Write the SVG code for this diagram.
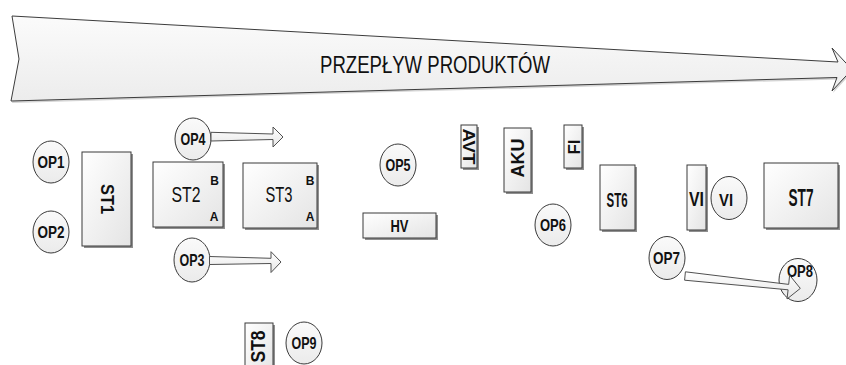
<svg xmlns="http://www.w3.org/2000/svg" width="846" height="365" viewBox="0 0 846 365">
<defs>
<linearGradient id="gBox" x1="0" y1="0" x2="1" y2="1">
<stop offset="0" stop-color="#ffffff"/><stop offset="1" stop-color="#e4e4e4"/>
</linearGradient>
<linearGradient id="gEl" x1="0" y1="0" x2="0" y2="1">
<stop offset="0" stop-color="#fafafa"/><stop offset="1" stop-color="#ebebeb"/>
</linearGradient>
<linearGradient id="gFlow" x1="0" y1="0" x2="0" y2="1">
<stop offset="0" stop-color="#fbfbfb"/><stop offset="1" stop-color="#ececec"/>
</linearGradient>
<linearGradient id="gArr" x1="0" y1="0" x2="0" y2="1">
<stop offset="0" stop-color="#ffffff"/><stop offset="1" stop-color="#e6e6e6"/>
</linearGradient>
</defs>
<style>
.box{fill:url(#gBox);stroke:#3a3a3a;stroke-width:1}
.sh{fill:#6a6a6a;opacity:0.75}
.el{fill:url(#gEl);stroke:#3a3a3a;stroke-width:1}
.arr{fill:url(#gArr);stroke:#505050;stroke-width:1;stroke-linejoin:miter}
text{font-family:"Liberation Sans",Arial,sans-serif;fill:#111;text-anchor:middle}
.b{font-weight:bold}
.op{font-weight:bold;font-size:17px}
.sm{font-weight:bold;font-size:12px}
</style>
<rect width="846" height="365" fill="#ffffff"/>

<g id="flow">
<polygon points="12,16 838,62 832,48 852,69.5 832,91 837,77.5 11,101 19,59" fill="#d4d4d4" transform="translate(1,2)"/>
<polygon points="12,16 838,62 832,48 852,69.5 832,91 837,77.5 11,101 19,59" fill="url(#gFlow)" stroke="#3c3c3c" stroke-width="1"/>
<text x="435" y="73" font-size="24" textLength="230" lengthAdjust="spacingAndGlyphs">PRZEPŁYW PRODUKTÓW</text>
</g>

<g id="OP1"><ellipse class="el" cx="51" cy="162" rx="18" ry="21"/><text class="op" x="51" y="168" textLength="27" lengthAdjust="spacingAndGlyphs">OP1</text></g>
<g id="OP2"><ellipse class="el" cx="51" cy="232" rx="18" ry="21"/><text class="op" x="51" y="238" textLength="27" lengthAdjust="spacingAndGlyphs">OP2</text></g>

<g id="ST1"><rect class="sh" x="84" y="154" width="49" height="94"/><rect class="box" x="82" y="152" width="49" height="94"/>
<text class="b" font-size="18" transform="translate(107,199) rotate(90)" x="0" y="6.5" textLength="30" lengthAdjust="spacingAndGlyphs">ST1</text></g>

<g id="OP4"><ellipse class="el" cx="193" cy="139" rx="18" ry="21"/><text class="op" x="193" y="145" textLength="25" lengthAdjust="spacingAndGlyphs">OP4</text></g>

<g id="ST2"><rect class="sh" x="155" y="164" width="70" height="65"/><rect class="box" x="153" y="162" width="70" height="65"/>
<text font-size="22" x="186" y="201.5" textLength="29" lengthAdjust="spacingAndGlyphs">ST2</text>
<text class="sm" x="214.5" y="184.5">B</text><text class="sm" x="214" y="221">A</text></g>

<g id="ST3"><rect class="sh" x="245" y="165" width="74" height="65"/><rect class="box" x="243" y="163" width="74" height="65"/>
<text font-size="22" x="279" y="202" textLength="27" lengthAdjust="spacingAndGlyphs">ST3</text>
<text class="sm" x="310" y="184.5">B</text><text class="sm" x="310" y="221">A</text></g>

<g id="OP3"><ellipse class="el" cx="192" cy="260" rx="18" ry="22"/><text class="op" x="192" y="266" textLength="25" lengthAdjust="spacingAndGlyphs">OP3</text></g>

<g id="OP5"><ellipse class="el" cx="398" cy="165" rx="18" ry="21"/><text class="op" x="398" y="171" textLength="25" lengthAdjust="spacingAndGlyphs">OP5</text></g>

<g id="HV"><rect class="sh" x="365" y="215" width="73" height="25"/><rect class="box" x="363" y="213" width="73" height="25"/>
<text class="b" font-size="16" x="399.5" y="231.5" textLength="18" lengthAdjust="spacingAndGlyphs">HV</text></g>

<g id="AVT"><rect class="sh" x="463" y="127" width="16" height="43"/><rect class="box" x="461" y="125" width="16" height="43"/>
<text class="b" font-size="17" transform="translate(468.5,146.5) rotate(90)" x="0" y="6" textLength="36" lengthAdjust="spacingAndGlyphs">AVT</text></g>

<g id="AKU"><rect class="sh" x="506" y="130" width="27" height="64"/><rect class="box" x="504" y="128" width="27" height="64"/>
<text class="b" font-size="19" transform="translate(516.5,158) rotate(-90)" x="0" y="7" textLength="39" lengthAdjust="spacingAndGlyphs">AKU</text></g>

<g id="FI"><rect class="sh" x="566" y="127" width="18" height="43"/><rect class="box" x="564" y="125" width="18" height="43"/>
<text class="b" font-size="17" transform="translate(573.5,147) rotate(-90)" x="0" y="6" textLength="15" lengthAdjust="spacingAndGlyphs">FI</text></g>

<g id="OP6"><ellipse class="el" cx="553" cy="225" rx="18" ry="21"/><text class="op" x="553" y="231" textLength="26" lengthAdjust="spacingAndGlyphs">OP6</text></g>

<g id="ST6"><rect class="sh" x="602" y="167" width="35" height="65"/><rect class="box" x="600" y="165" width="35" height="65"/>
<text class="b" font-size="20" x="617" y="206.5" textLength="21" lengthAdjust="spacingAndGlyphs">ST6</text></g>

<g id="VI-box"><rect class="sh" x="689" y="167" width="19" height="65"/><rect class="box" x="687" y="165" width="19" height="65"/>
<text class="b" font-size="21" x="696.5" y="206" textLength="15" lengthAdjust="spacingAndGlyphs">VI</text></g>

<g id="VI-op"><ellipse class="el" cx="729" cy="198" rx="18" ry="21.5"/><text class="b" font-size="17" x="726" y="206" textLength="14" lengthAdjust="spacingAndGlyphs">VI</text></g>

<g id="ST7"><rect class="sh" x="766" y="165" width="74" height="65"/><rect class="box" x="764" y="163" width="74" height="65"/>
<text class="b" font-size="23" x="801" y="206" textLength="25" lengthAdjust="spacingAndGlyphs">ST7</text></g>

<g id="OP7"><ellipse class="el" cx="667" cy="258" rx="18" ry="21.5"/><text class="op" x="666.5" y="264" textLength="27" lengthAdjust="spacingAndGlyphs">OP7</text></g>
<g id="OP8"><ellipse class="el" cx="798" cy="280" rx="19" ry="21.5"/><text class="op" x="800" y="277" textLength="26" lengthAdjust="spacingAndGlyphs">OP8</text></g>

<g id="ST8"><rect class="sh" x="247" y="325" width="28" height="50"/><rect class="box" x="245" y="323" width="28" height="50"/>
<text class="b" font-size="20" transform="translate(257,346.5) rotate(-90)" x="0" y="7.5" textLength="32" lengthAdjust="spacingAndGlyphs">ST8</text></g>

<g id="OP9"><ellipse class="el" cx="304" cy="343" rx="18" ry="21"/><text class="op" x="304" y="349" textLength="25" lengthAdjust="spacingAndGlyphs">OP9</text></g>

<g id="connectors">
<polygon class="arr" points="211,132.3 273,134 273,127 283,137 273,147 273,139.5 211,141"/>
<polygon class="arr" points="209.5,256.5 271,258.3 271,251.7 281,262 271,272.5 271,263.5 209.5,264.5"/>
<polygon class="arr" points="685.4,271.8 788.7,284.4 789.6,275.2 800.3,288.4 787,299 788.1,289.8 684.6,280.2"/>
</g>
</svg>
